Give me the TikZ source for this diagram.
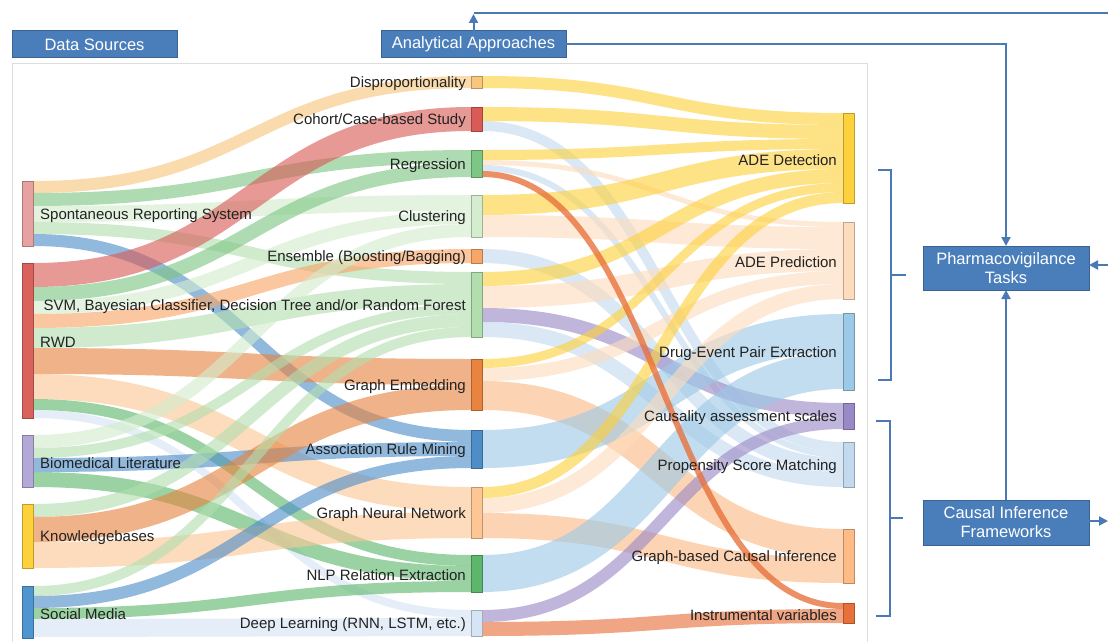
\documentclass[tikz,border=0pt]{standalone}
\usepackage{fontspec}
\setmainfont{Liberation Sans}
\usetikzlibrary{calc,arrows.meta}
\definecolor{cSRS}{HTML}{E6A1A1}
\definecolor{cRWD}{HTML}{D9625D}
\definecolor{cBL}{HTML}{B4A9D6}
\definecolor{cKB}{HTML}{FDD13C}
\definecolor{cSM}{HTML}{4F95CF}
\definecolor{cDisp}{HTML}{F8C67D}
\definecolor{cCoh}{HTML}{D95B57}
\definecolor{cReg}{HTML}{7EC683}
\definecolor{cClust}{HTML}{D3EDCE}
\definecolor{cEns}{HTML}{F7A666}
\definecolor{cSVM}{HTML}{B2DEAE}
\definecolor{cGE}{HTML}{E8843F}
\definecolor{cARM}{HTML}{4F8DC9}
\definecolor{cGNN}{HTML}{FCC795}
\definecolor{cNLP}{HTML}{5CB76C}
\definecolor{cDL}{HTML}{D6E5F5}
\definecolor{cADet}{HTML}{FDD13C}
\definecolor{cAPred}{HTML}{FDDCBE}
\definecolor{cDEPE}{HTML}{9CC9E6}
\definecolor{cCAS}{HTML}{9A89C6}
\definecolor{cPSM}{HTML}{C3DAEE}
\definecolor{cGCI}{HTML}{FDBB85}
\definecolor{cIV}{HTML}{E8703A}
\definecolor{cBox}{HTML}{4A7EBB}
\definecolor{cBoxB}{HTML}{3A6394}
\definecolor{cLine}{HTML}{4A7AB5}
\definecolor{cTxt}{HTML}{222222}
\definecolor{cPanel}{HTML}{DDDDDD}
\newcommand\sklink[6]{%
  \draw[sklinkstyle, draw=#6, line width=#5pt]
    let \p1=($(#1.north east)+(0,#2)$), \p2=($(#3.north west)+(0,#4)$) in
    (\p1) .. controls ({0.5*\x1+0.5*\x2},\y1) and ({0.5*\x1+0.5*\x2},\y2) .. (\p2);}
\begin{document}
\begin{tikzpicture}[x=1pt,y=-1pt,
  sklinkstyle/.style={draw opacity=0.62},
  snode/.style={draw=#1!75!black, fill=#1, line width=0.8pt, minimum width=11pt, inner sep=0pt, outer sep=0pt},
  lbl/.style={font=\fontsize{15}{17}\selectfont, text=cTxt, inner sep=0pt, yshift=-2pt},
  bbox/.style={draw=cBoxB, fill=cBox, line width=1pt, text=white, font=\fontsize{16.5}{19}\selectfont, align=center, inner sep=0pt, outer sep=0pt},
  conn/.style={draw=cLine, line width=2pt},
  tip/.style={-{Triangle[length=9pt,width=9pt]}}]
\useasboundingbox (0,0) rectangle (1108,642);
\fill[white] (0,0) rectangle (1108,642);
% panel
\draw[cPanel, line width=1pt] (12,642) -- (12,64) -- (867,64) -- (867,642);
% nodes (left)
\node[snode=cSRS, minimum height=65pt] (srs) at (27.5,213.5) {};
\node[snode=cRWD, minimum height=155pt] (rwd) at (27.5,340.5) {};
\node[snode=cBL, minimum height=52pt] (bl) at (27.5,461) {};
\node[snode=cKB, minimum height=64pt] (kb) at (27.5,536) {};
\node[snode=cSM, minimum height=52pt] (sm) at (27.5,612) {};
% nodes (middle)
\node[snode=cDisp, minimum height=12pt] (disp) at (476.5,82) {};
\node[snode=cCoh, minimum height=24pt] (cohort) at (476.5,119) {};
\node[snode=cReg, minimum height=27pt] (reg) at (476.5,163.5) {};
\node[snode=cClust, minimum height=42pt] (clust) at (476.5,216) {};
\node[snode=cEns, minimum height=14pt] (ens) at (476.5,256) {};
\node[snode=cSVM, minimum height=65pt] (svm) at (476.5,304.5) {};
\node[snode=cGE, minimum height=51pt] (ge) at (476.5,384.5) {};
\node[snode=cARM, minimum height=38pt] (arm) at (476.5,449) {};
\node[snode=cGNN, minimum height=51pt] (gnn) at (476.5,512.5) {};
\node[snode=cNLP, minimum height=37pt] (nlp) at (476.5,573.5) {};
\node[snode=cDL, minimum height=26pt] (dl) at (476.5,623) {};
% nodes (right)
\node[snode=cADet, minimum height=90pt] (adet) at (848.5,158) {};
\node[snode=cAPred, minimum height=77pt] (apred) at (848.5,260.5) {};
\node[snode=cDEPE, minimum height=77pt] (depe) at (848.5,351.5) {};
\node[snode=cCAS, minimum height=26pt] (cas) at (848.5,416) {};
\node[snode=cPSM, minimum height=45pt] (psm) at (848.5,464.5) {};
\node[snode=cGCI, minimum height=54pt] (gci) at (848.5,556) {};
\node[snode=cIV, minimum height=20pt] (iv) at (848.5,613) {};
% links left -> middle
\sklink{srs}{6}{disp}{6}{12}{cDisp}
\sklink{srs}{18.5}{reg}{6.5}{13}{cReg}
\sklink{srs}{33}{clust}{8}{16}{cClust}
\sklink{srs}{47}{svm}{6}{12}{cSVM}
\sklink{srs}{59}{arm}{6}{12}{cARM}
\sklink{rwd}{12}{cohort}{12}{24}{cCoh}
\sklink{rwd}{31}{reg}{20}{14}{cReg}
\sklink{rwd}{44.5}{clust}{22.5}{13}{cClust}
\sklink{rwd}{58}{ens}{7}{14}{cEns}
\sklink{rwd}{75}{svm}{22}{20}{cSVM}
\sklink{rwd}{98}{ge}{13}{26}{cGE}
\sklink{rwd}{123.5}{gnn}{12.5}{25}{cGNN}
\sklink{rwd}{141.5}{nlp}{5.5}{11}{cNLP}
\sklink{rwd}{151}{dl}{4}{8}{cDL}
\sklink{bl}{6.5}{clust}{35.5}{13}{cClust}
\sklink{bl}{18}{svm}{37}{10}{cSVM}
\sklink{bl}{30}{arm}{19}{14}{cARM}
\sklink{bl}{44.5}{nlp}{18.5}{15}{cNLP}
\sklink{kb}{6.5}{svm}{48.5}{13}{cSVM}
\sklink{kb}{25.5}{ge}{38.5}{25}{cGE}
\sklink{kb}{51}{gnn}{38}{26}{cGNN}
\sklink{sm}{5}{svm}{60}{10}{cSVM}
\sklink{sm}{16}{arm}{32}{12}{cARM}
\sklink{sm}{27.5}{nlp}{31.5}{11}{cNLP}
\sklink{sm}{42}{dl}{17}{18}{cDL}
% links middle -> right
\sklink{disp}{6}{adet}{6}{12}{cADet}
\sklink{cohort}{7}{adet}{19}{14}{cADet}
\sklink{cohort}{19}{psm}{5}{10}{cPSM}
\sklink{reg}{5}{adet}{31}{10}{cADet}
\sklink{reg}{12.5}{apred}{2.5}{5}{cAPred}
\sklink{reg}{18}{psm}{13}{6}{cPSM}
\sklink{clust}{10}{adet}{46}{20}{cADet}
\sklink{clust}{31}{apred}{16}{22}{cAPred}
\sklink{ens}{7}{psm}{23}{14}{cPSM}
\sklink{svm}{7}{adet}{63}{14}{cADet}
\sklink{svm}{25}{apred}{38}{22}{cAPred}
\sklink{svm}{43}{cas}{7}{14}{cCAS}
\sklink{svm}{57.5}{psm}{37.5}{15}{cPSM}
\sklink{ge}{4.5}{adet}{74.5}{9}{cADet}
\sklink{ge}{15.5}{apred}{55.5}{13}{cAPred}
\sklink{ge}{36.5}{gci}{14.5}{29}{cGCI}
\sklink{arm}{19}{depe}{20}{38}{cDEPE}
\sklink{gnn}{5.5}{adet}{84.5}{11}{cADet}
\sklink{gnn}{18.5}{apred}{69.5}{15}{cAPred}
\sklink{gnn}{38.5}{gci}{41.5}{25}{cGCI}
\sklink{nlp}{18.5}{depe}{57.5}{37}{cDEPE}
\sklink{dl}{6}{cas}{20}{12}{cCAS}
\sklink{dl}{19}{iv}{13}{14}{cIV}
\begin{scope}[sklinkstyle/.style={draw opacity=0.78}]
\sklink{reg}{24}{iv}{3}{6}{cIV}
\end{scope}
% redraw nodes on top
\foreach \n/\c in {srs/cSRS,rwd/cRWD,bl/cBL,kb/cKB,sm/cSM,disp/cDisp,cohort/cCoh,reg/cReg,clust/cClust,ens/cEns,svm/cSVM,ge/cGE,arm/cARM,gnn/cGNN,nlp/cNLP,dl/cDL,adet/cADet,apred/cAPred,depe/cDEPE,cas/cCAS,psm/cPSM,gci/cGCI,iv/cIV}
  \draw[draw=\c!75!black, fill=\c, line width=0.8pt] (\n.north west) rectangle (\n.south east);
% labels
\node[lbl, anchor=west] at ($(srs.east)+(7,0)$) {Spontaneous Reporting System};
\node[lbl, anchor=west] at ($(rwd.east)+(7,0)$) {RWD};
\node[lbl, anchor=west] at ($(bl.east)+(7,0)$) {Biomedical Literature};
\node[lbl, anchor=west] at ($(kb.east)+(7,0)$) {Knowledgebases};
\node[lbl, anchor=west] at ($(sm.east)+(7,0)$) {Social Media};
\node[lbl, anchor=east] at ($(disp.west)+(-5,0)$) {Disproportionality};
\node[lbl, anchor=east] at ($(cohort.west)+(-5,0)$) {Cohort/Case-based Study};
\node[lbl, anchor=east] at ($(reg.west)+(-5,0)$) {Regression};
\node[lbl, anchor=east] at ($(clust.west)+(-5,0)$) {Clustering};
\node[lbl, anchor=east] at ($(ens.west)+(-5,0)$) {Ensemble (Boosting/Bagging)};
\node[lbl, anchor=east] at ($(svm.west)+(-5,0)$) {SVM, Bayesian Classifier, Decision Tree and/or Random Forest};
\node[lbl, anchor=east] at ($(ge.west)+(-5,0)$) {Graph Embedding};
\node[lbl, anchor=east] at ($(arm.west)+(-5,0)$) {Association Rule Mining};
\node[lbl, anchor=east] at ($(gnn.west)+(-5,0)$) {Graph Neural Network};
\node[lbl, anchor=east] at ($(nlp.west)+(-5,0)$) {NLP Relation Extraction};
\node[lbl, anchor=east] at ($(dl.west)+(-5,0)$) {Deep Learning (RNN, LSTM, etc.)};
\node[lbl, anchor=east] at ($(adet.west)+(-6,0)$) {ADE Detection};
\node[lbl, anchor=east] at ($(apred.west)+(-6,0)$) {ADE Prediction};
\node[lbl, anchor=east] at ($(depe.west)+(-6,0)$) {Drug-Event Pair Extraction};
\node[lbl, anchor=east] at ($(cas.west)+(-6,0)$) {Causality assessment scales};
\node[lbl, anchor=east] at ($(psm.west)+(-6,0)$) {Propensity Score Matching};
\node[lbl, anchor=east] at ($(gci.west)+(-6,0)$) {Graph-based Causal Inference};
\node[lbl, anchor=east] at ($(iv.west)+(-6,0)$) {Instrumental variables};
% header boxes
\node[bbox, minimum width=165pt, minimum height=27pt] (ds) at (94.5,44.5) {Data Sources};
\node[bbox, minimum width=185pt, minimum height=27pt] (aa) at (473.5,44.5) {Analytical Approaches};
\node[bbox, minimum width=166pt, minimum height=44pt] (pt) at (1006,268) {Pharmacovigilance\\Tasks};
\node[bbox, minimum width=166pt, minimum height=45pt] (cif) at (1006,522.5) {Causal Inference\\Frameworks};
% connectors
\coordinate (topR) at (1108,13);
\coordinate (topL) at (aa.north |- topR);
\draw[conn] (topL) -- (topR);
\draw[conn, tip] (aa.north) -- ($(topL)+(0,1)$);
\draw[conn, tip] (aa.east) -| (pt.north);
\draw[conn, tip] (cif.north) -- (pt.south);
\coordinate (ptin) at (1108,265);
\draw[conn, tip] (ptin) -- (ptin -| pt.east);
\coordinate (cifout) at (1108,521);
\draw[conn, tip] (cifout -| cif.east) -- (cifout);
% brackets
\draw[conn] (878,170) -- (891,170) -- (891,380) -- (878,380);
\draw[conn] (891,275) -- (906,275);
\draw[conn] (876,421) -- (890,421) -- (890,616) -- (876,616);
\draw[conn] (890,518) -- (903,518);
\end{tikzpicture}
\end{document}
